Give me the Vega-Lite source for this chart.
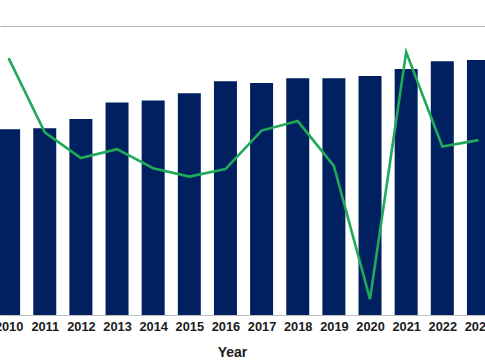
{
  "$schema": "https://vega.github.io/schema/vega-lite/v6.json",
  "width": 485,
  "height": 289,
  "autosize": {"type": "none"},
  "padding": {"top": 26, "left": 0, "right": 0, "bottom": 45},
  "background": "white",
  "config": {"view": {"stroke": null}},
  "data": {
    "values": [
      {"year": 2010, "bar": 64.3, "line": 88.9},
      {"year": 2011, "bar": 64.6, "line": 63.2},
      {"year": 2012, "bar": 67.8, "line": 54.3},
      {"year": 2013, "bar": 73.5, "line": 57.4},
      {"year": 2014, "bar": 74.2, "line": 50.8},
      {"year": 2015, "bar": 76.7, "line": 47.9},
      {"year": 2016, "bar": 80.9, "line": 50.5},
      {"year": 2017, "bar": 80.3, "line": 63.8},
      {"year": 2018, "bar": 81.9, "line": 67.1},
      {"year": 2019, "bar": 81.9, "line": 51.6},
      {"year": 2020, "bar": 82.7, "line": 5.5},
      {"year": 2021, "bar": 85.1, "line": 91.0},
      {"year": 2022, "bar": 87.8, "line": 58.3},
      {"year": 2023, "bar": 88.2, "line": 60.5}
    ]
  },
  "encoding": {
    "x": {
      "field": "year",
      "type": "quantitative",
      "scale": {"domain": [2009.9, 2023.043], "nice": false, "zero": false},
      "axis": {
        "values": [2010, 2011, 2012, 2013, 2014, 2015, 2016, 2017, 2018, 2019, 2020, 2021, 2022, 2023],
        "format": "d",
        "title": "Year",
        "titleFont": "Liberation Sans",
        "titleFontSize": 14,
        "titleFontWeight": "bold",
        "titleColor": "#1a1a1a",
        "titleX": 232,
        "titlePadding": 13,
        "labelFont": "Liberation Sans",
        "labelFontSize": 12.8,
        "labelFontWeight": "bold",
        "labelColor": "#1a1a1a",
        "labelFlush": false,
        "labelBound": false,
        "labelOverlap": false,
        "labelPadding": 5,
        "ticks": false,
        "grid": false,
        "domainColor": "#bfbfbf",
        "domainWidth": 1
      }
    }
  },
  "layer": [
    {
      "mark": {"type": "bar", "size": 23, "color": "#002060", "clip": true},
      "encoding": {
        "y": {
          "field": "bar",
          "type": "quantitative",
          "scale": {"domain": [0, 100], "nice": false},
          "axis": {
            "values": [100],
            "grid": true,
            "gridColor": "#b3b3b3",
            "gridWidth": 1.2,
            "labels": false,
            "ticks": false,
            "domain": false,
            "title": null
          }
        }
      }
    },
    {
      "mark": {"type": "line", "color": "#1faa5a", "strokeWidth": 2.6, "clip": true},
      "encoding": {
        "y": {
          "field": "line",
          "type": "quantitative",
          "scale": {"domain": [0, 100], "nice": false},
          "axis": null
        }
      }
    }
  ],
  "resolve": {"scale": {"y": "independent"}}
}
